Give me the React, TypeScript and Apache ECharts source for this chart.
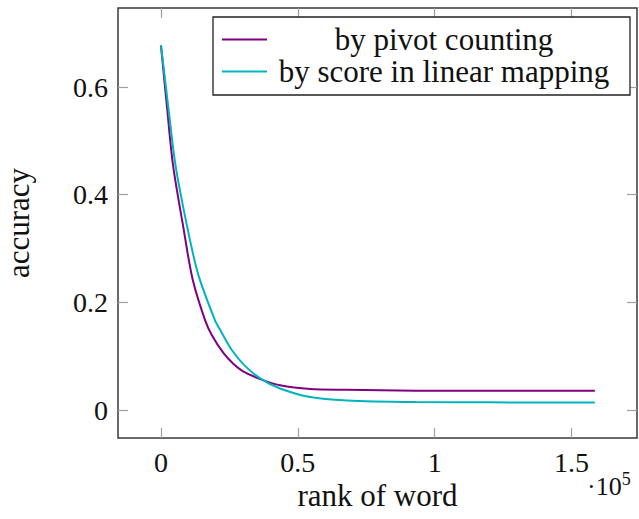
import React, { useEffect, useRef } from "react";
import * as echarts from "echarts";

// x values in units of 1e5 (rank of word)
const pivotX = [0, 0.022, 0.044, 0.0815, 0.116, 0.161, 0.185, 0.228, 0.264, 0.3, 0.365, 0.435, 0.545, 0.679, 0.93, 1.2, 1.585];
const pivotY = [0.677, 0.563, 0.455, 0.34, 0.242, 0.167, 0.14, 0.106, 0.086, 0.072, 0.057, 0.046, 0.039, 0.0375, 0.036, 0.0357, 0.0357];

const linearX = [0, 0.0267, 0.053, 0.096, 0.136, 0.197, 0.216, 0.258, 0.307, 0.365, 0.435, 0.545, 0.679, 0.93, 1.2, 1.585];
const linearY = [0.678, 0.563, 0.455, 0.34, 0.252, 0.167, 0.149, 0.112, 0.082, 0.058, 0.04, 0.024, 0.0178, 0.0148, 0.0142, 0.0141];

const xTicks = [0, 0.5, 1, 1.5];
const yTicks = [0, 0.2, 0.4, 0.6];
const seriesNames = ["by pivot counting", "by score in linear mapping"];

const FONT = "'Liberation Serif', 'DejaVu Serif', serif";
const FS = 28;
const FT = 31;

export default function App() {
  const ref = useRef<HTMLDivElement>(null);
  useEffect(() => {
    if (!ref.current) return;
    const chart = echarts.init(ref.current, undefined, { renderer: "svg" });
    const xMin = -0.157;
    const xMax = 1.739;
    const yMin = -0.052;
    const yMax = 0.747;
    const tickStyle = { color: "#a0a0a0", width: 1.2 };
    const lineIcon = "path://M0,0 L45,0 L45,2 L0,2 Z";
    chart.setOption({
      animation: false,
      backgroundColor: "#ffffff",
      grid: {
        left: 118,
        right: 2,
        top: 8,
        bottom: 81,
        containLabel: false,
        outerBoundsMode: "none",
        show: true,
        borderColor: "#3a3a3a",
        borderWidth: 1.5,
        backgroundColor: "transparent",
      },
      legend: {
        orient: "vertical",
        left: 213,
        top: 17,
        padding: [7, 14, 8, 9],
        itemWidth: 45,
        itemHeight: 2,
        itemGap: 1,
        borderColor: "#222",
        borderWidth: 1.3,
        backgroundColor: "#ffffff",
        data: [
          { name: seriesNames[0], icon: lineIcon },
          { name: seriesNames[1], icon: lineIcon },
        ],
        formatter: "{c|{name}}",
        textStyle: {
          fontFamily: FONT,
          fontSize: FT,
          color: "#111",
          rich: {
            c: { width: 344, align: "center", fontFamily: FONT, fontSize: FT, lineHeight: 32, color: "#111" },
          },
        },
      },
      xAxis: [
        {
          type: "value",
          min: xMin,
          max: xMax,
          name: "rank of word",
          nameLocation: "middle",
          nameGap: 42,
          nameMoveOverlap: false,
          nameTextStyle: { fontFamily: FONT, fontSize: FT, color: "#111" },
          axisLine: { show: false, onZero: false },
          splitLine: { show: false },
          axisTick: { show: true, inside: true, length: 10, lineStyle: tickStyle, customValues: xTicks },
          axisLabel: {
            fontFamily: FONT,
            fontSize: FS,
            color: "#111",
            margin: 10,
            customValues: xTicks,
            formatter: (v: number) => String(v),
          },
        },
        {
          type: "value",
          position: "top",
          min: xMin,
          max: xMax,
          axisLine: { show: false, onZero: false },
          splitLine: { show: false },
          axisTick: { show: true, inside: true, length: 10, lineStyle: tickStyle, customValues: xTicks },
          axisLabel: { show: false },
        },
      ],
      yAxis: [
        {
          type: "value",
          min: yMin,
          max: yMax,
          name: "accuracy",
          nameLocation: "middle",
          nameGap: 84,
          nameMoveOverlap: false,
          nameRotate: 90,
          nameTextStyle: { fontFamily: FONT, fontSize: FT, color: "#111" },
          axisLine: { show: false, onZero: false },
          splitLine: { show: false },
          axisTick: { show: true, inside: true, length: 10, lineStyle: tickStyle, customValues: yTicks },
          axisLabel: {
            fontFamily: FONT,
            fontSize: FS,
            color: "#111",
            margin: 10,
            customValues: yTicks,
            formatter: (v: number) => String(v),
          },
        },
        {
          type: "value",
          position: "right",
          min: yMin,
          max: yMax,
          axisLine: { show: false, onZero: false },
          splitLine: { show: false },
          axisTick: { show: true, inside: true, length: 10, lineStyle: tickStyle, customValues: yTicks },
          axisLabel: { show: false },
        },
      ],
      series: [
        {
          name: seriesNames[0],
          type: "line",
          xAxisIndex: 0,
          yAxisIndex: 0,
          data: pivotX.map((x, i) => [x, pivotY[i]]),
          symbol: "none",
          smooth: 0.3,
          lineStyle: { color: "#800080", width: 2 },
          itemStyle: { color: "#800080" },
        },
        {
          name: seriesNames[1],
          type: "line",
          xAxisIndex: 0,
          yAxisIndex: 0,
          data: linearX.map((x, i) => [x, linearY[i]]),
          symbol: "none",
          smooth: 0.3,
          lineStyle: { color: "#00b4be", width: 2 },
          itemStyle: { color: "#00b4be" },
        },
      ],
      graphic: [
        {
          type: "text",
          left: 587,
          top: 470,
          style: {
            text: "{a|·10}{b|5}",
            rich: {
              a: { fontFamily: FONT, fontSize: 26, fill: "#111", lineHeight: 30 },
              b: { fontFamily: FONT, fontSize: 18, fill: "#111", padding: [0, 0, 14, 0], lineHeight: 30 },
            },
          },
        },
      ],
    });
    return () => chart.dispose();
  }, []);
  return (
    <div
      ref={ref}
      style={{ position: "fixed", left: 0, top: 0, width: 639, height: 519, background: "#fff" }}
    />
  );
}
